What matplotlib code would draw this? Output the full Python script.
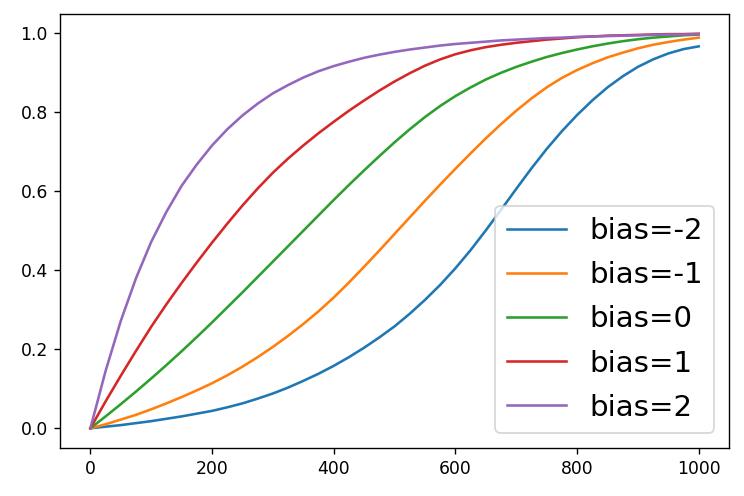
import matplotlib
matplotlib.use("Agg")
import matplotlib.pyplot as plt

# значения, шаг 25
steps = list(range(0, 1001, 25))

bias_m2 = [0.0, 0.004, 0.008, 0.013, 0.018, 0.024, 0.030, 0.037, 0.044, 0.053,
           0.063, 0.075, 0.088, 0.103, 0.120, 0.138, 0.158, 0.180, 0.204, 0.230,
           0.258, 0.290, 0.325, 0.363, 0.405, 0.451, 0.501, 0.553, 0.606, 0.658,
           0.707, 0.752, 0.793, 0.830, 0.863, 0.891, 0.915, 0.934, 0.949, 0.960,
           0.967]
bias_m1 = [0.0, 0.010, 0.022, 0.034, 0.048, 0.063, 0.079, 0.096, 0.114, 0.134,
           0.156, 0.180, 0.206, 0.234, 0.264, 0.296, 0.331, 0.369, 0.409, 0.450,
           0.492, 0.534, 0.576, 0.617, 0.657, 0.696, 0.734, 0.770, 0.804, 0.835,
           0.863, 0.887, 0.907, 0.924, 0.939, 0.951, 0.962, 0.971, 0.978, 0.984,
           0.989]
bias_0 = [0.0, 0.030, 0.061, 0.093, 0.126, 0.160, 0.195, 0.231, 0.268, 0.306,
          0.344, 0.383, 0.422, 0.461, 0.500, 0.539, 0.578, 0.616, 0.653, 0.689,
          0.724, 0.757, 0.788, 0.816, 0.841, 0.863, 0.883, 0.900, 0.915, 0.928,
          0.940, 0.950, 0.959, 0.967, 0.974, 0.980, 0.985, 0.989, 0.992, 0.995,
          0.997]
bias_1 = [0.0, 0.068, 0.133, 0.196, 0.257, 0.314, 0.368, 0.420, 0.470, 0.518,
          0.564, 0.607, 0.647, 0.683, 0.716, 0.747, 0.776, 0.804, 0.830, 0.855,
          0.878, 0.899, 0.918, 0.934, 0.947, 0.957, 0.965, 0.971, 0.976, 0.980,
          0.984, 0.987, 0.990, 0.992, 0.994, 0.995, 0.996, 0.997, 0.998, 0.998,
          0.999]
bias_2 = [0.0, 0.145, 0.272, 0.380, 0.472, 0.548, 0.614, 0.668, 0.716, 0.757,
          0.792, 0.822, 0.848, 0.869, 0.888, 0.904, 0.917, 0.928, 0.938, 0.946,
          0.953, 0.959, 0.964, 0.969, 0.973, 0.976, 0.979, 0.982, 0.984, 0.986,
          0.988, 0.989, 0.991, 0.992, 0.993, 0.994, 0.995, 0.996, 0.997, 0.997,
          0.998]

series = [bias_m2, bias_m1, bias_0, bias_1, bias_2]
labels = ["bias=-2", "bias=-1", "bias=0", "bias=1", "bias=2"]

fig = plt.figure(figsize=(6, 4), dpi=124)
ax = fig.add_axes([0.0806, 0.0968, 0.8994, 0.875])

for values, label in zip(series, labels):
    ax.plot(steps, values, label=label)

ax.legend(loc="lower right", fontsize=17, labelspacing=0.55)

fig.savefig("out.png", dpi=124)
